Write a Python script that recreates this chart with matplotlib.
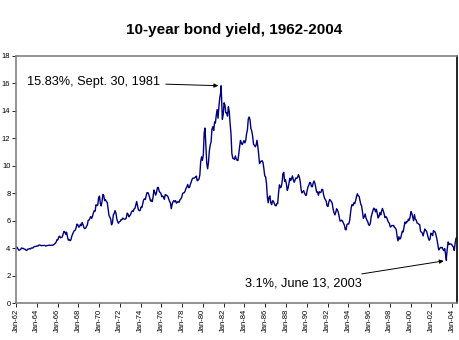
#!/usr/bin/env python3
"""
10-year bond yield, 1962-2004
- monthly yields plus the two annotated extremes
- saves out.png (460x340)
"""

import datetime as dt
import matplotlib
matplotlib.use("Agg")
import matplotlib.pyplot as plt
import matplotlib.dates as mdates

plt.rcParams["font.family"] = ["Liberation Sans", "DejaVu Sans"]

START_YEAR = 1962

# Monthly 10-year yields (%), one row per year, Jan..Dec
YIELDS = [
    [4.08, 4.04, 3.93, 3.84, 3.87, 3.91, 4.01, 3.98, 3.98, 3.93, 3.92, 3.86],
    [3.83, 3.92, 3.93, 3.97, 3.93, 3.99, 4.02, 4.00, 4.08, 4.11, 4.12, 4.13],
    [4.17, 4.15, 4.22, 4.23, 4.20, 4.17, 4.19, 4.19, 4.20, 4.19, 4.15, 4.18],
    [4.19, 4.21, 4.21, 4.20, 4.21, 4.21, 4.20, 4.25, 4.29, 4.35, 4.45, 4.62],
    [4.61, 4.83, 4.87, 4.75, 4.78, 4.81, 5.02, 5.22, 5.18, 5.01, 5.16, 4.84],
    [4.58, 4.63, 4.54, 4.59, 4.85, 5.02, 5.16, 5.28, 5.30, 5.48, 5.75, 5.70],
    [5.53, 5.56, 5.74, 5.64, 5.87, 5.72, 5.50, 5.42, 5.46, 5.58, 5.70, 6.03],
    [6.04, 6.19, 6.30, 6.17, 6.32, 6.57, 6.72, 6.69, 7.16, 7.10, 7.14, 7.65],
    [7.79, 7.24, 7.07, 7.39, 7.91, 7.84, 7.46, 7.53, 7.39, 7.33, 6.84, 6.39],
    [6.24, 6.11, 5.70, 5.83, 6.39, 6.52, 6.73, 6.58, 6.14, 5.93, 5.81, 5.93],
    [5.95, 6.08, 6.07, 6.19, 6.13, 6.11, 6.11, 6.21, 6.55, 6.48, 6.28, 6.36],
    [6.46, 6.64, 6.71, 6.67, 6.85, 6.90, 7.13, 7.40, 7.09, 6.79, 6.73, 6.74],
    [6.99, 6.96, 7.21, 7.51, 7.58, 7.54, 7.81, 8.04, 8.04, 7.90, 7.68, 7.43],
    [7.50, 7.39, 7.73, 8.23, 8.06, 7.86, 8.06, 8.40, 8.43, 8.15, 8.05, 8.00],
    [7.74, 7.79, 7.73, 7.56, 7.90, 7.86, 7.83, 7.77, 7.59, 7.41, 7.29, 6.87],
    [7.21, 7.39, 7.46, 7.37, 7.46, 7.28, 7.33, 7.40, 7.34, 7.52, 7.58, 7.69],
    [7.96, 8.03, 8.04, 8.15, 8.35, 8.46, 8.64, 8.41, 8.42, 8.64, 8.81, 9.01],
    [9.10, 9.10, 9.12, 9.18, 9.25, 8.91, 8.95, 9.03, 9.33, 10.30, 10.65, 10.39],
    [10.80, 12.41, 12.75, 11.47, 10.18, 9.78, 10.25, 11.10, 11.51, 11.75, 12.68, 12.84],
    [12.57, 13.19, 13.12, 13.68, 14.10, 13.47, 14.28, 14.94, 15.32, 15.15, 13.39, 13.72],
    [14.59, 14.43, 13.86, 13.87, 13.62, 14.30, 13.95, 13.06, 12.34, 10.91, 10.55, 10.54],
    [10.46, 10.72, 10.51, 10.40, 10.38, 10.85, 11.38, 11.85, 11.65, 11.54, 11.69, 11.83],
    [11.67, 11.84, 12.32, 12.63, 13.41, 13.56, 13.36, 12.72, 12.52, 12.16, 11.57, 11.50],
    [11.38, 11.51, 11.86, 11.43, 10.85, 10.16, 10.31, 10.33, 10.37, 10.24, 9.78, 9.26],
    [9.19, 8.70, 7.78, 7.30, 7.71, 7.80, 7.30, 7.17, 7.45, 7.43, 7.25, 7.11],
    [7.08, 7.25, 7.25, 8.02, 8.61, 8.40, 8.45, 8.76, 9.42, 9.52, 8.86, 8.99],
    [8.67, 8.21, 8.37, 8.72, 9.09, 8.92, 9.06, 9.26, 8.98, 8.80, 8.96, 9.11],
    [9.09, 9.17, 9.36, 9.18, 8.86, 8.28, 8.02, 8.11, 8.19, 8.01, 7.87, 7.84],
    [8.21, 8.47, 8.59, 8.79, 8.76, 8.48, 8.47, 8.75, 8.89, 8.72, 8.39, 8.08],
    [8.09, 7.85, 8.11, 8.04, 8.07, 8.28, 8.27, 7.90, 7.65, 7.53, 7.42, 7.09],
    [7.03, 7.34, 7.54, 7.48, 7.39, 7.26, 6.84, 6.59, 6.42, 6.59, 6.87, 6.77],
    [6.60, 6.26, 5.98, 5.97, 6.04, 5.96, 5.81, 5.68, 5.36, 5.33, 5.72, 5.77],
    [5.75, 5.97, 6.48, 6.97, 7.18, 7.10, 7.30, 7.24, 7.46, 7.74, 7.96, 7.81],
    [7.78, 7.47, 7.20, 7.06, 6.63, 6.17, 6.28, 6.49, 6.20, 6.04, 5.93, 5.71],
    [5.65, 5.81, 6.27, 6.51, 6.74, 6.91, 6.87, 6.64, 6.83, 6.53, 6.20, 6.30],
    [6.58, 6.42, 6.69, 6.89, 6.71, 6.49, 6.22, 6.30, 6.21, 6.03, 5.88, 5.81],
    [5.54, 5.57, 5.65, 5.64, 5.65, 5.50, 5.46, 5.34, 4.81, 4.53, 4.83, 4.65],
    [4.72, 5.00, 5.23, 5.18, 5.54, 5.90, 5.79, 5.94, 5.92, 6.11, 6.03, 6.28],
    [6.66, 6.52, 6.26, 5.99, 6.44, 6.10, 6.05, 5.83, 5.80, 5.74, 5.72, 5.24],
    [5.16, 5.10, 4.89, 5.14, 5.39, 5.28, 5.24, 4.97, 4.73, 4.57, 4.65, 5.09],
    [5.04, 4.91, 5.28, 5.21, 5.16, 4.93, 4.65, 4.26, 3.87, 3.94, 4.05, 4.03],
    [4.05, 3.90, 3.81, 3.96, 3.57, 3.33, 3.98, 4.45, 4.27, 4.29, 4.30, 4.27],
    [4.15, 4.08, 3.83, 4.35, 4.72, 4.73],
]

# annotated extremes
PEAK_DATE = dt.date(1981, 9, 30)
PEAK_VALUE = 15.83
LOW_DATE = dt.date(2003, 6, 13)
LOW_VALUE = 3.1

Y_TICKS = [0, 2, 4, 6, 8, 10, 12, 14, 16, 18]


def build_series():
    pts = []
    for i, row in enumerate(YIELDS):
        for m, v in enumerate(row):
            pts.append((dt.date(START_YEAR + i, m + 1, 15), v))
    pts.append((PEAK_DATE, PEAK_VALUE))
    pts.append((LOW_DATE, LOW_VALUE))
    pts.sort()
    return [p[0] for p in pts], [p[1] for p in pts]


dates, values = build_series()

fig = plt.figure(figsize=(4.6, 3.4), dpi=100)
ax = fig.add_axes([16 / 460, 1 - 303 / 340, 441 / 460, 247 / 340])

ax.plot(dates, values, color="#000080", lw=1.0)

ax.set_xlim(dt.date(1962, 1, 1), dt.date(2004, 6, 20))
ax.set_ylim(0, 18)
ax.set_yticks(Y_TICKS)
ax.tick_params(axis="y", labelsize=5.5, length=3, width=0.6, pad=1)

ax.xaxis.set_major_locator(mdates.YearLocator(2, month=1, day=1))
ax.xaxis.set_major_formatter(mdates.DateFormatter("Jan-%y"))
ax.tick_params(axis="x", labelsize=5.5, length=3, width=0.6, pad=1,
               labelrotation=90)

# Excel-style frame: grey dotted left/top/bottom, solid black right
for side in ("left", "top", "bottom"):
    ax.spines[side].set_color("#808080")
    ax.spines[side].set_linestyle((0, (1, 1)))
    ax.spines[side].set_linewidth(1.2)
ax.spines["right"].set_color("black")
ax.spines["right"].set_linewidth(1.2)

ax.annotate("15.83%, Sept. 30, 1981", xy=(PEAK_DATE, PEAK_VALUE),
            xytext=(dt.date(1963, 2, 1), 16.1), fontsize=9.2, va="center",
            arrowprops=dict(arrowstyle="-|>", color="black", lw=0.7,
                            mutation_scale=6, shrinkB=2))
ax.annotate("3.1%, June 13, 2003", xy=(LOW_DATE, LOW_VALUE),
            xytext=(dt.date(1984, 2, 1), 1.45), fontsize=9.2, va="center",
            arrowprops=dict(arrowstyle="-|>", color="black", lw=0.7,
                            mutation_scale=6, shrinkB=2))

fig.text(0.51, 0.912, "10-year bond yield, 1962-2004", ha="center",
         va="center", fontsize=11, fontweight="bold")

fig.savefig("out.png", dpi=100)
